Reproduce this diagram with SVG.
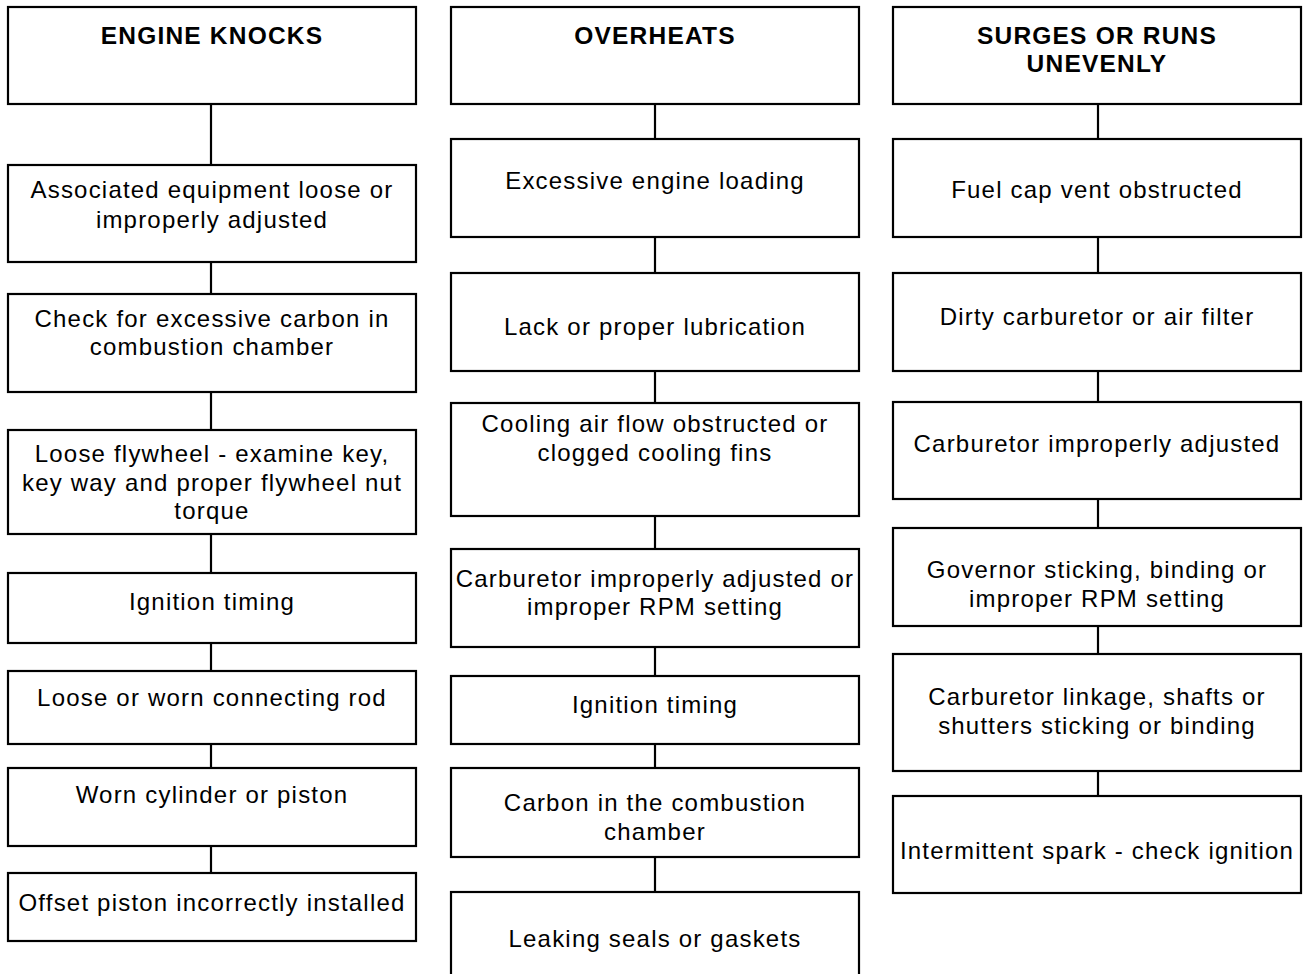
<svg xmlns="http://www.w3.org/2000/svg" width="1303" height="974" viewBox="0 0 1303 974">
<style>
rect{fill:#fff;stroke:#000;stroke-width:2.2}
line{stroke:#000;stroke-width:2.2}
text{font-family:"Liberation Sans",Arial,sans-serif;font-size:24px;letter-spacing:1.2px;text-anchor:middle;fill:#000}
.h{font-weight:bold;font-size:24.5px;letter-spacing:1.2px}
</style>
<rect x="0" y="0" width="1303" height="974" style="stroke:none"/>
<g id="connectors">
<line x1="211" y1="104" x2="211" y2="165"/>
<line x1="211" y1="262" x2="211" y2="294"/>
<line x1="211" y1="392" x2="211" y2="430"/>
<line x1="211" y1="534" x2="211" y2="573"/>
<line x1="211" y1="643" x2="211" y2="671"/>
<line x1="211" y1="744" x2="211" y2="768"/>
<line x1="211" y1="846" x2="211" y2="873"/>
<line x1="655" y1="104" x2="655" y2="139"/>
<line x1="655" y1="237" x2="655" y2="273"/>
<line x1="655" y1="371" x2="655" y2="403"/>
<line x1="655" y1="516" x2="655" y2="549"/>
<line x1="655" y1="647" x2="655" y2="676"/>
<line x1="655" y1="744" x2="655" y2="768"/>
<line x1="655" y1="857" x2="655" y2="892"/>
<line x1="1098" y1="104" x2="1098" y2="139"/>
<line x1="1098" y1="237" x2="1098" y2="273"/>
<line x1="1098" y1="371" x2="1098" y2="402"/>
<line x1="1098" y1="499" x2="1098" y2="528"/>
<line x1="1098" y1="626" x2="1098" y2="654"/>
<line x1="1098" y1="771" x2="1098" y2="796"/>
</g>
<g id="c1-h"><rect x="8" y="7" width="408" height="97"/><text class="h" x="212" y="44">ENGINE KNOCKS</text></g>
<g id="c1-1"><rect x="8" y="165" width="408" height="97"/><text x="212" y="198">Associated equipment loose or</text><text x="212" y="228">improperly adjusted</text></g>
<g id="c1-2"><rect x="8" y="294" width="408" height="98"/><text x="212" y="327">Check for excessive carbon in</text><text x="212" y="355">combustion chamber</text></g>
<g id="c1-3"><rect x="8" y="430" width="408" height="104"/><text x="212" y="462">Loose flywheel - examine key,</text><text x="212" y="491">key way and proper flywheel nut</text><text x="212" y="519">torque</text></g>
<g id="c1-4"><rect x="8" y="573" width="408" height="70"/><text x="212" y="610">Ignition timing</text></g>
<g id="c1-5"><rect x="8" y="671" width="408" height="73"/><text x="212" y="706">Loose or worn connecting rod</text></g>
<g id="c1-6"><rect x="8" y="768" width="408" height="78"/><text x="212" y="803">Worn cylinder or piston</text></g>
<g id="c1-7"><rect x="8" y="873" width="408" height="68"/><text x="212" y="911">Offset piston incorrectly installed</text></g>
<g id="c2-h"><rect x="451" y="7" width="408" height="97"/><text class="h" x="655" y="44">OVERHEATS</text></g>
<g id="c2-1"><rect x="451" y="139" width="408" height="98"/><text x="655" y="189">Excessive engine loading</text></g>
<g id="c2-2"><rect x="451" y="273" width="408" height="98"/><text x="655" y="335">Lack or proper lubrication</text></g>
<g id="c2-3"><rect x="451" y="403" width="408" height="113"/><text x="655" y="432">Cooling air flow obstructed or</text><text x="655" y="461">clogged cooling fins</text></g>
<g id="c2-4"><rect x="451" y="549" width="408" height="98"/><text x="655" y="587">Carburetor improperly adjusted or</text><text x="655" y="615">improper RPM setting</text></g>
<g id="c2-5"><rect x="451" y="676" width="408" height="68"/><text x="655" y="713">Ignition timing</text></g>
<g id="c2-6"><rect x="451" y="768" width="408" height="89"/><text x="655" y="811">Carbon in the combustion</text><text x="655" y="840">chamber</text></g>
<g id="c2-7"><rect x="451" y="892" width="408" height="95"/><text x="655" y="947">Leaking seals or gaskets</text></g>
<g id="c3-h"><rect x="893" y="7" width="408" height="97"/><text class="h" x="1097" y="44">SURGES OR RUNS</text><text class="h" x="1097" y="72">UNEVENLY</text></g>
<g id="c3-1"><rect x="893" y="139" width="408" height="98"/><text x="1097" y="198">Fuel cap vent obstructed</text></g>
<g id="c3-2"><rect x="893" y="273" width="408" height="98"/><text x="1097" y="325">Dirty carburetor or air filter</text></g>
<g id="c3-3"><rect x="893" y="402" width="408" height="97"/><text x="1097" y="452">Carburetor improperly adjusted</text></g>
<g id="c3-4"><rect x="893" y="528" width="408" height="98"/><text x="1097" y="578">Governor sticking, binding or</text><text x="1097" y="607">improper RPM setting</text></g>
<g id="c3-5"><rect x="893" y="654" width="408" height="117"/><text x="1097" y="705">Carburetor linkage, shafts or</text><text x="1097" y="734">shutters sticking or binding</text></g>
<g id="c3-6"><rect x="893" y="796" width="408" height="97"/><text x="1097" y="859">Intermittent spark - check ignition</text></g>
</svg>
